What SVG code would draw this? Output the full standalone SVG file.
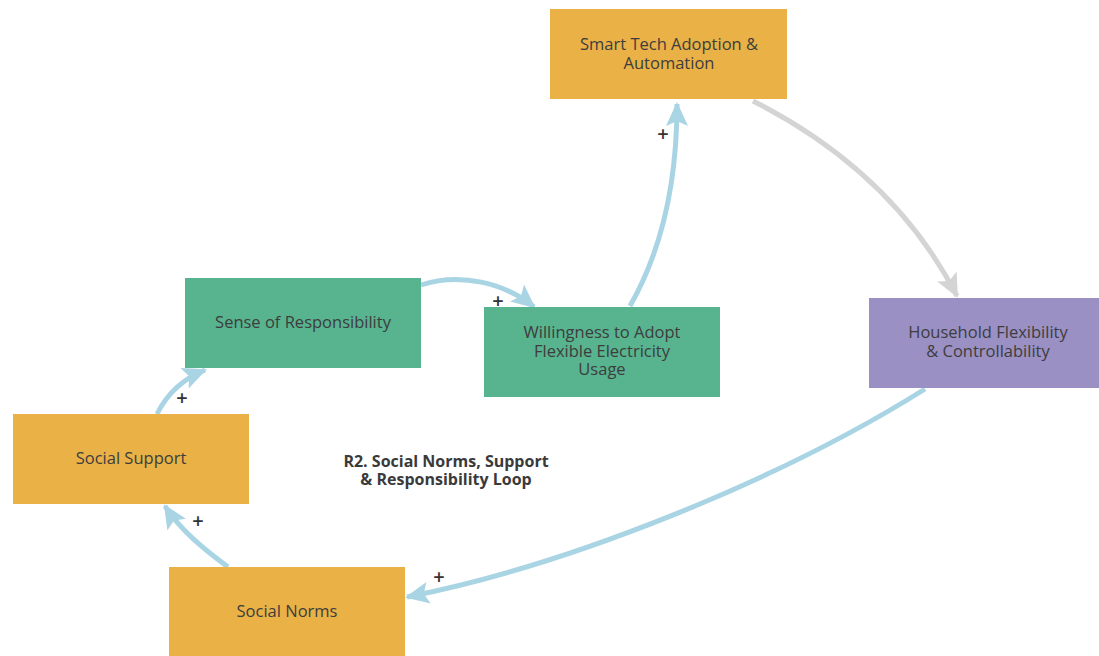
<svg xmlns="http://www.w3.org/2000/svg" width="1099" height="656" viewBox="0 0 1099 656">
<style>
.node text{font-family:"Open Sans",sans-serif;font-size:16.5px;fill:#3d3d3d;text-anchor:middle}
.or{fill:#E9B146}
.gr{fill:#58B38F}
.pu{fill:#9A90C4}
.c{fill:none;stroke:#A9D4E4;stroke-width:5}
.g{fill:none;stroke:#D4D4D4;stroke-width:5}
.plus{font-family:"Open Sans",sans-serif;font-size:20px;font-weight:600;fill:#333;text-anchor:middle}
.lbl{font-family:"Open Sans",sans-serif;font-size:16px;font-weight:bold;fill:#3a3a3a;text-anchor:middle}
</style>
<defs>
<marker id="ab" markerUnits="userSpaceOnUse" markerWidth="24" markerHeight="24" viewBox="0 0 24 24" refX="22" refY="12" orient="auto"><path d="M0,1 L24,12 L0,23 L5,12 Z" fill="#A9D4E4"/></marker>
<marker id="ag" markerUnits="userSpaceOnUse" markerWidth="24" markerHeight="24" viewBox="0 0 24 24" refX="22" refY="12" orient="auto"><path d="M0,1 L24,12 L0,23 L5,12 Z" fill="#D4D4D4"/></marker>
</defs>
<rect width="1099" height="656" fill="#fff"/>
<g id="connectors">
<path class="c" d="M630,306 C662,250 677,180 677,104" marker-end="url(#ab)"/>
<path class="g" d="M753,101 C850,150 915,215 957,296" marker-end="url(#ag)"/>
<path class="c" d="M925,389 C780,480 570,565 407,597" marker-end="url(#ab)"/>
<path class="c" d="M228,567 C205,550 180,530 165,506" marker-end="url(#ab)"/>
<path class="c" d="M157,414 C168,392 185,378 205,370" marker-end="url(#ab)"/>
<path class="c" d="M421,285 C460,272 505,283 534,307" marker-end="url(#ab)"/>
<text class="plus" x="663" y="141">+</text>
<text class="plus" x="182" y="405">+</text>
<text class="plus" x="198" y="528">+</text>
<text class="plus" x="439" y="584">+</text>
<text class="plus" x="498" y="308">+</text>
</g>
<g id="smart" class="node"><rect class="or" x="550" y="9" width="237" height="90"/><text x="669" y="50">Smart Tech Adoption &amp;<tspan x="669" dy="18.5">Automation</tspan></text></g>
<g id="household" class="node"><rect class="pu" x="869" y="298" width="230" height="90"/><text x="988" y="338">Household Flexibility<tspan x="988" dy="18.5">&amp; Controllability</tspan></text></g>
<g id="sense" class="node"><rect class="gr" x="185" y="278" width="236" height="90"/><text x="303" y="328">Sense of Responsibility</text></g>
<g id="willingness" class="node"><rect class="gr" x="484" y="307" width="236" height="90"/><text x="602" y="338">Willingness to Adopt<tspan x="602" dy="18.5">Flexible Electricity</tspan><tspan x="602" dy="18.5">Usage</tspan></text></g>
<g id="support" class="node"><rect class="or" x="13" y="414" width="236" height="90"/><text x="131" y="464">Social Support</text></g>
<g id="norms" class="node"><rect class="or" x="169" y="567" width="236" height="95"/><text x="287" y="617">Social Norms</text></g>
<g id="label"><text class="lbl" x="446" y="467">R2. Social Norms, Support<tspan x="446" dy="18">&amp; Responsibility Loop</tspan></text></g>
</svg>
